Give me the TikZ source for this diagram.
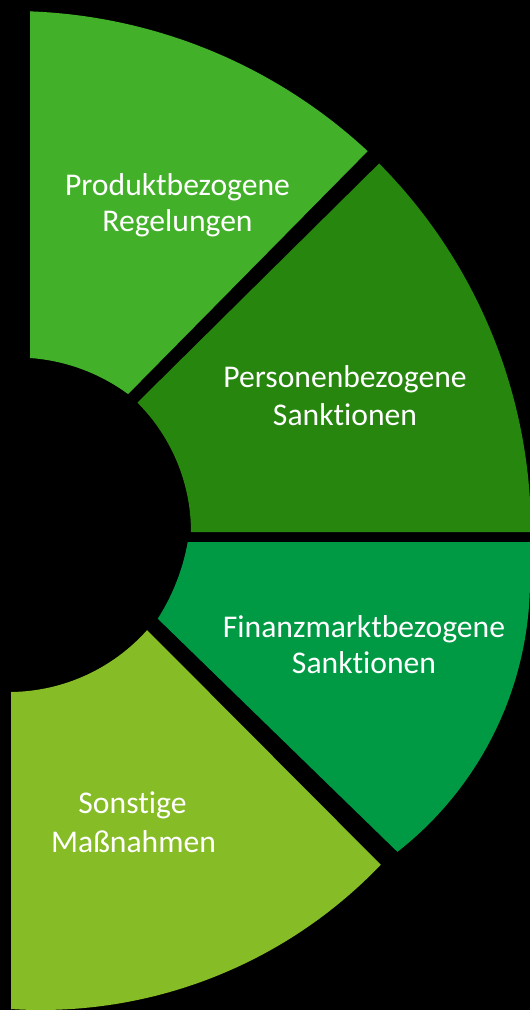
\documentclass[tikz,border=0pt]{standalone}
\usepackage{fontspec}
\setmainfont[Ligatures=NoCommon]{Carlito}
\definecolor{segA}{HTML}{43B02A}
\definecolor{segB}{HTML}{27860E}
\definecolor{segC}{HTML}{009A44}
\definecolor{segD}{HTML}{86BC26}
\tikzset{
  lbl/.style={text=white, font=\fontsize{18pt}{21pt}\selectfont, inner sep=0pt, anchor=base},
  segfill/.style={fill=#1, draw=none}
}
\begin{document}
\begin{tikzpicture}[x=0.02cm, y=-0.02cm]
\fill[black] (0,0) rectangle (530,1010);
\useasboundingbox (0,0) rectangle (530,1010);
% Segment 1: Produktbezogene Regelungen
\path[segfill=segA] (30,11) -- (30,358)
  -- plot[domain=85.9:53.7, samples=40] ({16.5+188.5*cos(\x)}, {546-188.5*sin(\x)})
  -- plot[domain=47.1:87.9, samples=60] ({11+524*cos(\x)}, {535-524*sin(\x)})
  -- cycle;
% Segment 2: Personenbezogene Sanktionen
\path[segfill=segB] (137.4,402.6)
  -- plot[domain=44.8:3.5, samples=60] ({8+523*cos(\x)}, {532-523*sin(\x)})
  -- (530,532) -- (191,532)
  -- plot[domain=0:45, samples=40] ({8+183*cos(\x)}, {532-183*sin(\x)})
  -- cycle;
% Segment 3: Finanzmarktbezogene Sanktionen
\path[segfill=segC] (188,542) -- (530,542) -- (530,580)
  -- plot[domain=0:52, samples=60] ({185+345*cos(\x)}, {580+345*sin(\x)})
  -- plot[domain=32.6:10.1, samples=30] ({-20+211*cos(\x)}, {505+211*sin(\x)})
  -- cycle;
% Segment 4: Sonstige Massnahmen
\path[segfill=segD] (147,630)
  -- plot[domain=43.7:93.66, samples=60] ({41+470*cos(\x)}, {540+470*sin(\x)})
  -- (11,1010) -- (11,692)
  -- plot[domain=89.4:41.7, samples=40] ({9+185*cos(\x)}, {507+185*sin(\x)})
  -- cycle;
% Labels
\node[lbl] (t1a) at (177.5,195) {Produktbezogene};
\node[lbl] (t1b) at (177.5,232) {Regelungen};
\node[lbl] (t2a) at (345,387) {Personenbezogene};
\node[lbl] (t2b) at (345,425) {Sanktionen};
\node[lbl] (t3a) at (364,637) {Finanzmarktbezogene};
\node[lbl] (t3b) at (364,673) {Sanktionen};
\node[lbl] (t4a) at (132.5,813) {Sonstige};
\node[lbl] (t4b) at (133.5,852) {Maßnahmen};
\end{tikzpicture}
\end{document}
